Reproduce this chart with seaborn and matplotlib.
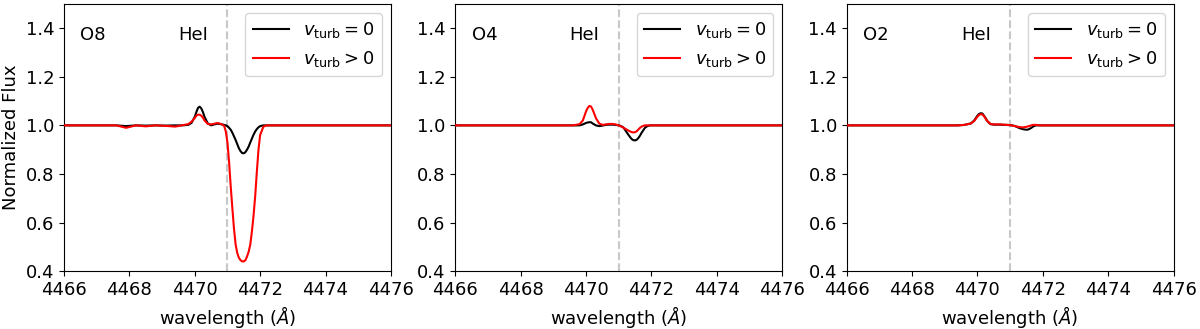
import matplotlib
matplotlib.use('Agg')
import matplotlib.pyplot as plt
import seaborn as sns

# wavelength grid (Angstrom), finer around the HeI 4471 line
wave = [4466.0, 4467.0, 4467.6, 4467.9, 4468.2, 4468.5, 4468.8, 4469.1, 4469.4,
        4469.6, 4469.8, 4469.9, 4470.0, 4470.05, 4470.1, 4470.15, 4470.2, 4470.25, 4470.3,
        4470.4, 4470.5, 4470.6, 4470.7, 4470.8, 4470.9, 4470.95, 4471.0, 4471.05, 4471.1,
        4471.15, 4471.2, 4471.25, 4471.3, 4471.35, 4471.4, 4471.45, 4471.5, 4471.55, 4471.6,
        4471.65, 4471.7, 4471.75, 4471.8, 4471.85, 4471.9, 4471.95, 4472.0, 4472.1, 4472.2,
        4472.5, 4473.0, 4476.0]

# O8 star
o8_still = [1.0, 1.0, 1.0, 0.997, 1.0, 0.999, 1.0, 0.999, 1.0,
            1.0, 1.002, 1.01, 1.035, 1.055, 1.072, 1.077, 1.07, 1.055, 1.035,
            1.008, 1.0, 1.004, 1.007, 1.005, 1.002, 1.0, 0.997, 0.99, 0.982,
            0.97, 0.955, 0.94, 0.923, 0.906, 0.894, 0.886, 0.885, 0.89, 0.9,
            0.913, 0.93, 0.946, 0.962, 0.975, 0.985, 0.992, 0.997, 1.0, 1.0,
            1.0, 1.0, 1.0]
o8_turb = [1.0, 1.0, 1.0, 0.99, 1.0, 0.996, 1.0, 0.998, 0.995,
           1.0, 1.005, 1.015, 1.03, 1.04, 1.044, 1.044, 1.04, 1.032, 1.02,
           1.006, 1.004, 1.007, 1.01, 1.006, 0.998, 0.975, 0.93, 0.85, 0.75,
           0.66, 0.575, 0.51, 0.475, 0.455, 0.445, 0.44, 0.44, 0.445, 0.46,
           0.48, 0.51, 0.565, 0.63, 0.71, 0.81, 0.9, 0.96, 0.995, 1.0,
           1.0, 1.0, 1.0]

# O4 star
o4_still = [1.0, 1.0, 1.0, 1.0, 1.0, 1.0, 1.0, 1.0, 1.0,
            1.0, 1.0, 1.004, 1.01, 1.012, 1.013, 1.013, 1.008, 1.004, 1.0,
            0.997, 0.999, 1.002, 1.003, 1.003, 1.002, 1.001, 1.0, 0.998, 0.995,
            0.99, 0.98, 0.97, 0.96, 0.951, 0.943, 0.939, 0.938, 0.941, 0.948,
            0.958, 0.97, 0.98, 0.99, 0.995, 0.998, 1.0, 1.0, 1.0, 1.0,
            1.0, 1.0, 1.0]
o4_turb = [1.0, 1.0, 1.0, 1.0, 1.0, 1.0, 1.0, 1.0, 1.0,
           1.0, 1.005, 1.02, 1.058, 1.072, 1.08, 1.078, 1.065, 1.048, 1.03,
           1.008, 1.002, 1.004, 1.006, 1.006, 1.004, 1.002, 1.0, 0.997, 0.994,
           0.99, 0.986, 0.982, 0.978, 0.975, 0.972, 0.971, 0.972, 0.976, 0.983,
           0.99, 0.995, 0.998, 1.0, 1.0, 1.0, 1.0, 1.0, 1.0, 1.0,
           1.0, 1.0, 1.0]

# O2 star
o2_still = [1.0, 1.0, 1.0, 1.0, 1.0, 1.0, 1.0, 1.0, 1.0,
            1.002, 1.008, 1.02, 1.04, 1.047, 1.05, 1.049, 1.04, 1.03, 1.018,
            1.005, 1.003, 1.003, 1.003, 1.002, 1.002, 1.001, 1.001, 1.0, 0.999,
            0.997, 0.994, 0.991, 0.988, 0.986, 0.984, 0.983, 0.982, 0.983, 0.986,
            0.99, 0.995, 0.998, 1.0, 1.0, 1.0, 1.0, 1.0, 1.0, 1.0,
            1.0, 1.0, 1.0]
o2_turb = [1.0, 1.0, 1.0, 1.0, 1.0, 1.0, 1.0, 1.0, 1.0,
           1.002, 1.008, 1.018, 1.036, 1.043, 1.046, 1.045, 1.038, 1.028, 1.018,
           1.006, 1.004, 1.004, 1.004, 1.003, 1.002, 1.002, 1.001, 1.0, 0.998,
           0.997, 0.995, 0.994, 0.993, 0.992, 0.992, 0.993, 0.994, 0.996, 0.998,
           1.0, 1.002, 1.002, 1.002, 1.001, 1.0, 1.0, 1.0, 1.0, 1.0,
           1.0, 1.0, 1.0]

spectral_types = ['O8', 'O4', 'O2']
still_fluxes = [o8_still, o4_still, o2_still]
turb_fluxes = [o8_turb, o4_turb, o2_turb]
line_center = 4471.0

plt.rcParams['font.family'] = ['DejaVu Sans']
plt.rcParams['font.size'] = 13

fig, axes = plt.subplots(1, 3, figsize=(12, 3.29), dpi=100)
fig.subplots_adjust(left=0.0533, right=0.978, bottom=0.176, top=0.988, wspace=0.197)

for ax, sp, f_still, f_turb in zip(axes, spectral_types, still_fluxes, turb_fluxes):
    ax.axvline(line_center, color='#c8c8c8', ls='--', lw=1.5, zorder=1)
    sns.lineplot(x=wave, y=f_still, ax=ax, color='black', lw=1.5,
                 label=r'$v_{\rm turb} = 0$', zorder=3)
    sns.lineplot(x=wave, y=f_turb, ax=ax, color='red', lw=1.5,
                 label=r'$v_{\rm turb} > 0$', zorder=4)
    ax.set_xlim(4466, 4476)
    ax.set_ylim(0.4, 1.5)
    ax.set_xticks([4466, 4468, 4470, 4472, 4474, 4476])
    ax.set_yticks([0.4, 0.6, 0.8, 1.0, 1.2, 1.4])
    ax.text(4466.5, 1.35, sp, fontsize=13)
    ax.text(4469.5, 1.35, 'HeI', fontsize=13)
    ax.set_xlabel(r'wavelength ($\AA$)', fontsize=13)
    ax.set_ylabel('')
    ax.legend(loc='upper right', fontsize=13)

axes[0].set_ylabel('Normalized Flux', fontsize=13)

plt.savefig('out.png', dpi=100)
